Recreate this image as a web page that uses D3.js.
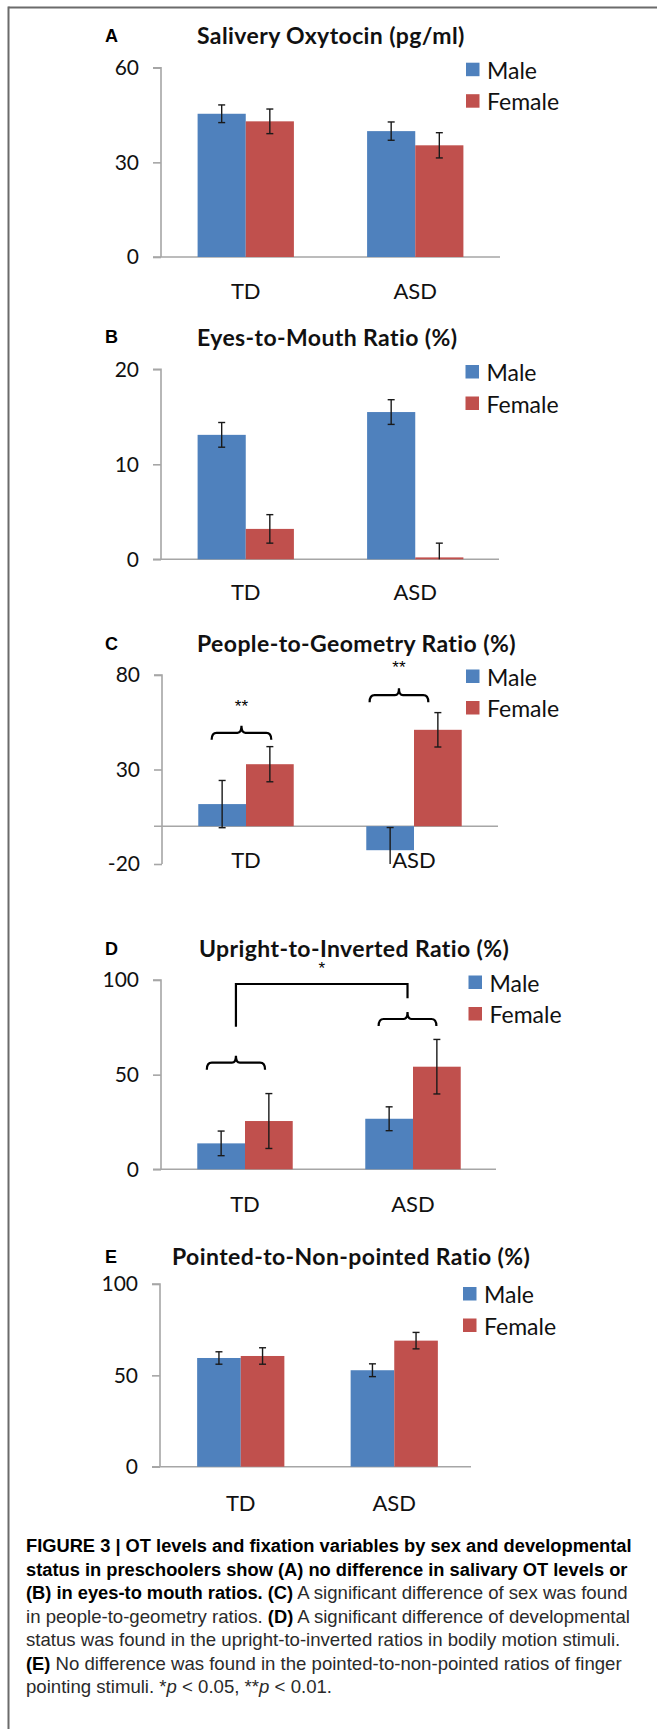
<!DOCTYPE html>
<html><head><meta charset="utf-8">
<script src="https://cdn.jsdelivr.net/npm/d3@7"></script>
<style>
body{margin:0;background:#fff;}
svg text{font-family:Lato,"Open Sans",sans-serif;}
</style></head>
<body><svg id="chart" width="657" height="1729"></svg>
<script>
// ---------- DATA ----------
const categories = ["TD", "ASD"];
const seriesNames = ["Male", "Female"];
const panelLetters = ["A", "B", "C", "D", "E"];
const panelTitles = ["Salivery Oxytocin (pg/ml)", "Eyes-to-Mouth Ratio (%)", "People-to-Geometry Ratio (%)",
                     "Upright-to-Inverted Ratio (%)", "Pointed-to-Non-pointed Ratio (%)"];

const oxytocinMale = [45.4, 39.9],  oxytocinMaleErr = [2.8, 2.9];
const oxytocinFemale = [43.0, 35.4], oxytocinFemaleErr = [3.9, 4.0];
const eyesMale = [13.1, 15.5],       eyesMaleErr = [1.3, 1.3];
const eyesFemale = [3.2, 0.2],       eyesFemaleErr = [1.5, 1.5];
const peopleMale = [11.7, -12.7],    peopleMaleErr = [12.5, 12.0];
const peopleFemale = [32.8, 51.0],   peopleFemaleErr = [9.3, 9.1];
const uprightMale = [13.7, 26.7],    uprightMaleErr = [6.5, 6.3];
const uprightFemale = [25.5, 54.2],  uprightFemaleErr = [14.5, 14.4];
const pointedMale = [59.5, 52.8],    pointedMaleErr = [3.4, 3.5];
const pointedFemale = [60.6, 69.0],  pointedFemaleErr = [4.5, 4.5];

const ticksA = [0, 30, 60];
const ticksB = [0, 10, 20];
const ticksC = [-20, 30, 80];
const ticksD = [0, 50, 100];
const ticksE = [0, 50, 100];

// significance brackets: category, level (data units), label
const sexBracketsC = [{cat: "TD", level: 49.4, label: "**", labelLevel: 63.5, span: [0.28, 1.53]},
                      {cat: "ASD", level: 69.3, label: "**", labelLevel: 84.0, span: [0.07, 1.30]}];
const sexBracketsD = [{cat: "TD", level: 56.3, span: [0.20, 1.42]},
                      {cat: "ASD", level: 79.4, span: [0.28, 1.49]}];
const groupBracketD = {level: 97.9, leftLevel: 75.3, rightLevel: 90.3, label: "*", labelLevel: 106};

const captionLines = [
  [["b", "FIGURE 3 | OT levels and fixation variables by sex and developmental"]],
  [["b", "status in preschoolers show (A) no difference in salivary OT levels or"]],
  [["b", "(B) in eyes-to mouth ratios. (C)"], ["r", " A significant difference of sex was found"]],
  [["r", "in people-to-geometry ratios. "], ["b", "(D)"], ["r", " A significant difference of developmental"]],
  [["r", "status was found in the upright-to-inverted ratios in bodily motion stimuli."]],
  [["b", "(E)"], ["r", " No difference was found in the pointed-to-non-pointed ratios of finger"]],
  [["r", "pointing stimuli. *"], ["i", "p"], ["r", " < 0.05, **"], ["i", "p"], ["r", " < 0.01."]]
];

// ---------- LAYOUT ----------
const panels = [
  {male: oxytocinMale, maleErr: oxytocinMaleErr, female: oxytocinFemale, femaleErr: oxytocinFemaleErr, ticks: ticksA,
   domain: [0, 60], yTop: 67.7, yBot: 257, axisX: 161, band: [161, 500], xEnd: 500, titleX: 197, titleY: 35, letterY: 36,
   legendX: 466, legendY: 62.7, catY: 290},
  {male: eyesMale, maleErr: eyesMaleErr, female: eyesFemale, femaleErr: eyesFemaleErr, ticks: ticksB,
   domain: [0, 20], yTop: 369.3, yBot: 559.3, axisX: 161, band: [161, 500], xEnd: 499, titleX: 197, titleY: 336.5, letterY: 337,
   legendX: 465.5, legendY: 365, catY: 591.5},
  {male: peopleMale, maleErr: peopleMaleErr, female: peopleFemale, femaleErr: peopleFemaleErr, ticks: ticksC,
   domain: [-20, 80], yTop: 675, yBot: 864, axisX: 162, band: [162, 498], xEnd: 498, titleX: 197, titleY: 643, letterY: 643.5,
   legendX: 466, legendY: 669.5, catY: 859},
  {male: uprightMale, maleErr: uprightMaleErr, female: uprightFemale, femaleErr: uprightFemaleErr, ticks: ticksD,
   domain: [0, 100], yTop: 980, yBot: 1169.3, axisX: 161, band: [161, 497], xEnd: 496, titleX: 199, titleY: 948, letterY: 948.5,
   legendX: 468.5, legendY: 975.5, catY: 1203.5},
  {male: pointedMale, maleErr: pointedMaleErr, female: pointedFemale, femaleErr: pointedFemaleErr, ticks: ticksE,
   domain: [0, 100], yTop: 1284, yBot: 1466.7, axisX: 160, band: [164, 471], xEnd: 471, titleX: 172, titleY: 1256, letterY: 1256.5,
   legendX: 463, legendY: 1287, catY: 1502}
];

const COLORS = {Male: "#4f81bd", Female: "#c0504d"};
const AXIS = "#a6a6a6";
const svg = d3.select("#chart");

// frame
svg.append("line").attr("x1", 8.5).attr("x2", 657).attr("y1", 7.5).attr("y2", 7.5).attr("stroke", "#6b6b6b").attr("stroke-width", 2);
svg.append("line").attr("x1", 8.5).attr("x2", 8.5).attr("y1", 6.5).attr("y2", 1729).attr("stroke", "#6b6b6b").attr("stroke-width", 2);

panels.forEach((p, pi) => {
  const g = svg.append("g");
  const y = d3.scaleLinear().domain(p.domain).range([p.yBot, p.yTop]);
  const x0 = d3.scaleBand().domain(categories).range(p.band).paddingInner(0).paddingOuter(0);
  const x1 = d3.scaleBand().domain(seriesNames).range([0, x0.bandwidth()]).paddingInner(0).paddingOuter(0.76);
  const bw = x1.bandwidth();

  // letter + title
  g.append("text").attr("x", 105).attr("y", p.letterY).attr("dominant-baseline", "central")
    .style("font-family", "'Liberation Sans', Arial, sans-serif").style("font-weight", 700).style("font-size", "18px")
    .text(panelLetters[pi]);
  g.append("text").attr("x", p.titleX).attr("y", p.titleY).attr("dominant-baseline", "central")
    .style("font-weight", 700).style("font-size", "23px").style("letter-spacing", "0.4px").attr("fill", "#111")
    .text(panelTitles[pi]);

  // y axis
  const yAxis = d3.axisLeft(y).tickValues(p.ticks).tickSize(8).tickPadding(14).tickFormat(d => String(d));
  const ya = g.append("g").attr("transform", `translate(${p.axisX},0)`).call(yAxis);
  ya.select(".domain").attr("stroke", AXIS).attr("stroke-width", 1.6).attr("d", `M-8,${p.yTop}H0V${p.yBot}`);
  ya.selectAll(".tick line").attr("stroke", AXIS).attr("stroke-width", 1.6);
  ya.selectAll(".tick text").style("font-family", "Lato, sans-serif").style("font-size", "21px").attr("fill", "#111");

  // x axis line at zero
  g.append("line").attr("x1", p.axisX - 8).attr("x2", p.xEnd).attr("y1", y(0)).attr("y2", y(0))
    .attr("stroke", AXIS).attr("stroke-width", 1.6);

  // bars
  const rows = [];
  categories.forEach((c, ci) => {
    rows.push({cat: c, s: "Male", v: p.male[ci], e: p.maleErr[ci]});
    rows.push({cat: c, s: "Female", v: p.female[ci], e: p.femaleErr[ci]});
  });
  g.selectAll("rect.bar").data(rows).join("rect").attr("class", "bar")
    .attr("x", d => x0(d.cat) + x1(d.s))
    .attr("width", bw)
    .attr("y", d => Math.min(y(d.v), y(0)))
    .attr("height", d => Math.abs(y(d.v) - y(0)))
    .attr("fill", d => COLORS[d.s]);

  // error bars (clipped at axis min)
  const [dmin, dmax] = p.domain;
  rows.forEach(d => {
    const cx = x0(d.cat) + x1(d.s) + bw / 2;
    const lo = d.v - d.e, hi = d.v + d.e;
    const loC = Math.max(lo, dmin), hiC = Math.min(hi, dmax);
    g.append("line").attr("x1", cx).attr("x2", cx).attr("y1", y(loC)).attr("y2", y(hiC))
      .attr("stroke", "#1a1a1a").attr("stroke-width", 1.4);
    [[lo, loC], [hi, hiC]].forEach(([v, vc]) => {
      if (v === vc) g.append("line").attr("x1", cx - 3.5).attr("x2", cx + 3.5).attr("y1", y(v)).attr("y2", y(v))
        .attr("stroke", "#1a1a1a").attr("stroke-width", 1.4);
    });
  });

  // category labels
  g.selectAll("text.cat").data(categories).join("text").attr("class", "cat")
    .attr("x", d => x0(d) + x0.bandwidth() / 2).attr("y", p.catY).attr("text-anchor", "middle")
    .attr("dominant-baseline", "central").style("font-size", "22px").attr("fill", "#111").text(d => d);

  // legend
  seriesNames.forEach((s, si) => {
    const ly = p.legendY + si * 31.5;
    g.append("rect").attr("x", p.legendX).attr("y", ly).attr("width", 13.5).attr("height", 13.5).attr("fill", COLORS[s]);
    g.append("text").attr("x", p.legendX + 21).attr("y", ly + 7).attr("dominant-baseline", "central")
      .style("font-size", "23px").attr("fill", "#111").text(s);
  });

  // brace helper
  const brace = (xa, xb, yy) => {
    const m = (xa + xb) / 2;
    return `M${xa},${yy + 7}Q${xa},${yy} ${xa + 5},${yy}L${m - 4},${yy}Q${m},${yy} ${m},${yy - 7}Q${m},${yy} ${m + 4},${yy}L${xb - 5},${yy}Q${xb},${yy} ${xb},${yy + 7}`;
  };
  const braceX = (b) => [x0(b.cat) + x1("Male") + b.span[0] * bw, x0(b.cat) + x1("Male") + b.span[1] * bw];

  if (pi === 2) {
    sexBracketsC.forEach(b => {
      const [xa, xb] = braceX(b);
      g.append("path").attr("d", brace(xa, xb, y(b.level))).attr("fill", "none").attr("stroke", "#000").attr("stroke-width", 2.2);
      g.append("text").attr("x", (xa + xb) / 2).attr("y", y(b.labelLevel)).attr("text-anchor", "middle")
        .attr("dominant-baseline", "central").style("font-family", "'Liberation Sans', Arial, sans-serif")
        .style("font-size", "17px").text(b.label);
    });
  }
  if (pi === 3) {
    const mids = [];
    sexBracketsD.forEach(b => {
      const [xa, xb] = braceX(b);
      mids.push((xa + xb) / 2);
      g.append("path").attr("d", brace(xa, xb, y(b.level))).attr("fill", "none").attr("stroke", "#000").attr("stroke-width", 2.2);
    });
    const gb = groupBracketD;
    g.append("path").attr("d", `M${mids[0]},${y(gb.leftLevel)}V${y(gb.level)}H${mids[1]}V${y(gb.rightLevel)}`)
      .attr("fill", "none").attr("stroke", "#000").attr("stroke-width", 2.2);
    g.append("text").attr("x", (mids[0] + mids[1]) / 2).attr("y", y(gb.labelLevel)).attr("text-anchor", "middle")
      .attr("dominant-baseline", "central").style("font-family", "'Liberation Sans', Arial, sans-serif")
      .style("font-size", "17px").text(gb.label);
  }
});

// caption
const cap = svg.append("g");
captionLines.forEach((line, i) => {
  const t = cap.append("text").attr("x", 26).attr("y", 1552 + i * 23.5)
    .style("font-family", "'Liberation Sans', Arial, sans-serif");
  line.forEach(([k, str]) => {
    const ts = t.append("tspan").text(str);
    if (k === "b") ts.style("font-weight", 700).style("font-size", "18.3px").attr("fill", "#000");
    else if (k === "i") ts.style("font-style", "italic").style("font-size", "18.6px").attr("fill", "#2a2a2a");
    else ts.style("font-size", "18.6px").attr("fill", "#2a2a2a");
  });
});
</script>
</body></html>
